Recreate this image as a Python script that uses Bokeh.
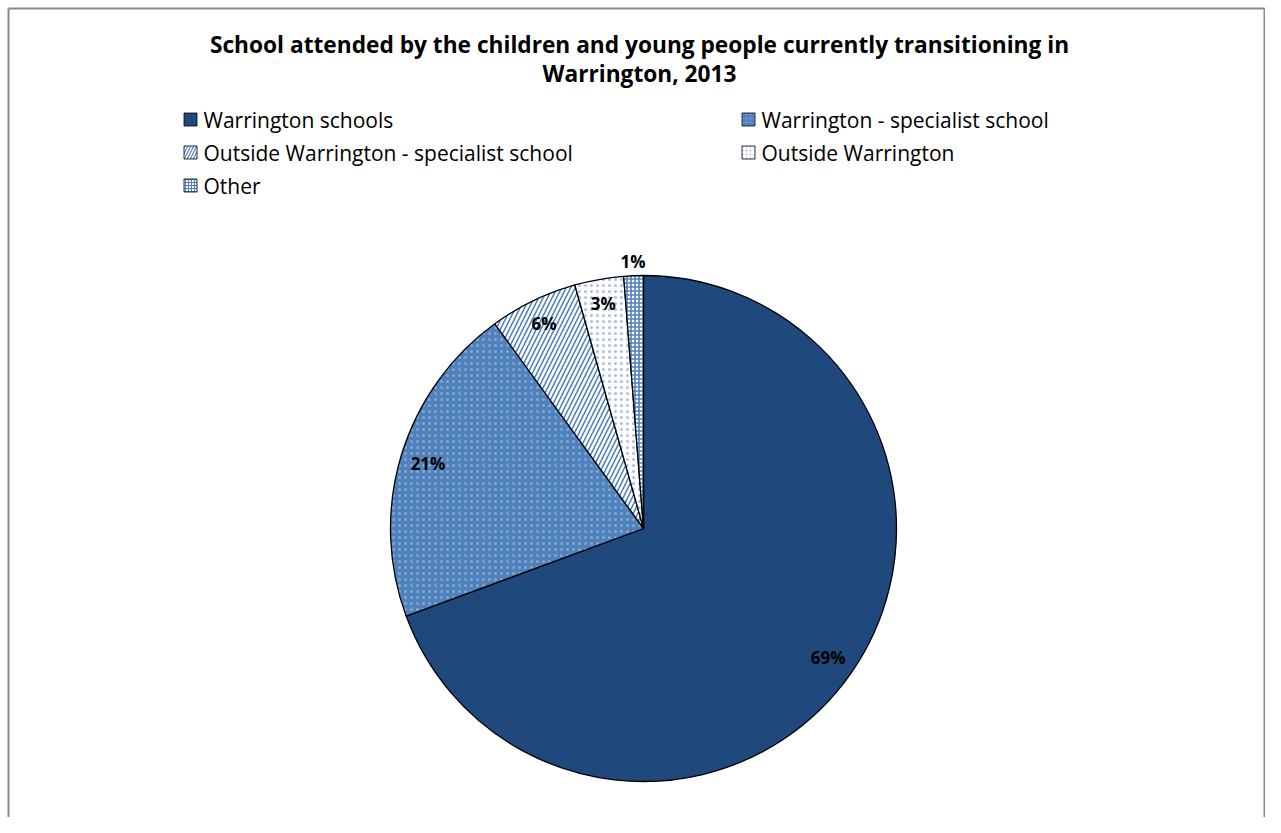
import math
from bokeh.plotting import figure
from bokeh.models import Range1d, ColumnDataSource
from bokeh.core.properties import value
from bokeh.embed import file_html
from bokeh.resources import INLINE

# ---- data ----
categories = [
    "Warrington schools",
    "Warrington - specialist school",
    "Outside Warrington - specialist school",
    "Outside Warrington",
    "Other",
]
counts = [111, 33, 9, 5, 2]
title_lines = [
    "School attended by the children and young people currently transitioning in",
    "Warrington, 2013",
]

# ---- styles ----
fills = ["#1F497D", "#4F81BD", "#FFFFFF", "#FFFFFF", "#FFFFFF"]
hatch_patterns = ["blank", "dot", "right_diagonal_line", "dot", "cross"]
hatch_colors = ["#1F497D", "#FFFFFF", "#4F81BD", "#4F81BD", "#4F81BD"]
hatch_scales = [6, 6, 9, 6, 4]
hatch_weights = [1, 1, 1.6, 1, 1.6]
hatch_alphas = [0, 0.3, 1, 0.5, 1]
label_radius = [0.89, 0.89, 0.90, 0.905, 1.055]

W, H = 1265, 817
FONT = "Open Sans"

p = figure(width=W, height=H, x_range=Range1d(0, W), y_range=Range1d(0, H),
           output_backend="svg", toolbar_location=None, min_border=0,
           x_axis_type=None, y_axis_type=None)
p.grid.visible = False
p.outline_line_color = None
p.background_fill_color = "white"
p.border_fill_color = "white"


def py(Y):
    return H - Y


def px(X):
    return X


# frame border (left, top, right)
p.multi_line(xs=[[8, 8], [8, W - 1], [W - 1, W - 1]],
             ys=[[0, py(8)], [py(8), py(8)], [py(8), 0]],
             line_color="#898989", line_width=2)

# ---- pie ----
total = float(sum(counts))
cx, cy, R = px(643), py(528), 253
starts, ends, mids = [], [], []
cum = 0.0
for c in counts:
    a0 = math.pi / 2 - 2 * math.pi * cum / total
    cum += c
    a1 = math.pi / 2 - 2 * math.pi * cum / total
    starts.append(a0)
    ends.append(a1)
    mids.append((a0 + a1) / 2)

src = ColumnDataSource(dict(
    start=starts, end=ends, fill=fills, hp=hatch_patterns, hc=hatch_colors,
    hs=hatch_scales, hw=hatch_weights, ha=hatch_alphas,
))
p.wedge(x=cx, y=cy, radius=R, start_angle="start", end_angle="end",
        direction="clock", source=src, fill_color="fill",
        hatch_pattern="hp", hatch_color="hc", hatch_scale="hs",
        hatch_weight="hw", hatch_alpha="ha",
        line_color="black", line_width=1.3)

labels = ["%d%%" % round(100 * c / total) for c in counts]
lx = [cx + R * f * math.cos(m) for f, m in zip(label_radius, mids)]
ly = [cy + R * f * math.sin(m) for f, m in zip(label_radius, mids)]
p.text(x=lx, y=ly, text=labels, text_font=value(FONT), text_font_style="bold",
       text_font_size="17px", text_align="center", text_baseline="middle",
       text_color="black")

# ---- title ----
p.text(x=[px(639), px(639)], y=[py(44), py(73)], text=title_lines,
       text_font=value(FONT), text_font_style="bold", text_font_size="22.7px",
       text_align="center", text_baseline="middle", text_color="black")

# ---- legend ----
leg_x = [px(190), px(748), px(190), px(748), px(190)]
leg_y = [py(119), py(119), py(152), py(152), py(185)]
leg_src = ColumnDataSource(dict(
    x=leg_x, y=leg_y, fill=fills, hp=hatch_patterns, hc=hatch_colors,
    hs=[4, 4, 6, 4, 3], hw=[1, 1, 1.2, 1, 1.2], ha=hatch_alphas,
))
p.rect(x="x", y="y", width=13, height=13, source=leg_src, fill_color="fill",
       hatch_pattern="hp", hatch_color="hc", hatch_scale="hs",
       hatch_weight="hw", hatch_alpha="ha", line_color="black", line_width=0.8)
p.text(x=[x + 13 for x in leg_x], y=leg_y, text=categories,
       text_font=value(FONT), text_font_size="21px", text_align="left",
       text_baseline="middle", text_color="black")

open("out.html", "w").write(file_html(p, INLINE))
